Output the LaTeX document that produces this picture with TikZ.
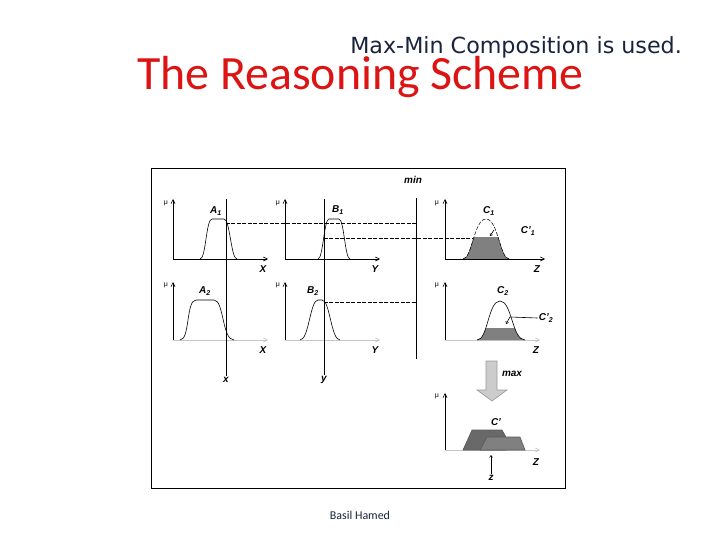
\documentclass[tikz,border=0pt]{standalone}
\usepackage{fontspec}
\setsansfont{Liberation Sans}
\newfontfamily\titlefont{Carlito}
\newfontfamily\notefont{DejaVu Sans}
\usetikzlibrary{arrows.meta}
\definecolor{titlered}{RGB}{220,20,20}
\definecolor{notenavy}{RGB}{25,35,60}
\definecolor{fillgray}{RGB}{128,128,128}
\definecolor{fillgraydark}{RGB}{105,105,105}

\begin{document}
\begin{tikzpicture}[x=1bp,y=-1bp,line width=0.6pt,
    axis/.style={-{Straight Barb[length=4pt,width=4pt]}},
    lbl/.style={font=\sffamily\bfseries\itshape\fontsize{10}{12}\selectfont,inner sep=1pt},
    mulbl/.style={font=\sffamily\fontsize{7}{8}\selectfont,inner sep=0pt},
    cut/.style={dash pattern=on 4pt off 1.5pt}]
      \useasboundingbox (0,0) rectangle (720,540);
      % headings
      \node[anchor=base west,inner sep=0pt,text=notenavy,font=\notefont\fontsize{22.3}{24}\selectfont] at (350,54) (note) {Max-Min Composition is used.};
      \node[anchor=base west,inner sep=0pt,text=titlered,font=\titlefont\fontsize{48}{52}\selectfont] at (137,90) (title) {The Reasoning Scheme};
      \node[anchor=base,inner sep=0pt,text=notenavy,font=\titlefont\fontsize{12}{14}\selectfont] at (360,519) (author) {Basil Hamed};
      \draw[line width=0.8pt] (151,168) rectangle (565,488);
      % row 1
      \draw[axis] (173,259) -- (173,199);
      \draw[axis] (173,259) -- (268,259);
      \draw[axis] (285,259) -- (285,199);
      \draw[axis] (285,259) -- (380,259);
      \draw (200,259) .. controls (206,259) and (206,219) .. (212,219) -- (224,219) .. controls (230,219) and (231,259) .. (237,259);
      \draw (318,259) .. controls (323,259) and (324,219) .. (329,219) -- (339,219) .. controls (344,219) and (345,259) .. (350,259);
      % row 2
      \draw[axis] (173,340) -- (173,282);
      \draw[axis,gray!45] (173,340) -- (268,340);
      \draw[axis] (285,340) -- (285,282);
      \draw[axis,gray!45] (285,340) -- (380,340);
      \draw (180,340) .. controls (190,340) and (186,300) .. (196,300) -- (214,300) .. controls (224,300) and (222,340) .. (234,340);
      \draw (300,340) .. controls (309,340) and (310,300) .. (318,300) -- (322,300) .. controls (330,300) and (331,340) .. (340,340);
      % output side
      \draw[axis] (445,259) -- (445,199);
      \draw[axis] (445,259) -- (545,259);
      \begin{scope}
        \clip (440,238) rectangle (560,259);
        \fill[fillgray,draw=fillgraydark] (463,259) .. controls (472,259) and (474,219) .. (486,219) .. controls (498,219) and (500,259) .. (509,259);
      \end{scope}
      \draw[cut,line width=0.5pt] (463,259) .. controls (472,259) and (474,219) .. (486,219) .. controls (498,219) and (500,259) .. (509,259);
      \draw[axis] (445,340) -- (445,282);
      \draw[axis,gray!45] (445,340) -- (540,340);
      \begin{scope}
        \clip (440,328) rectangle (560,340);
        \fill[fillgray] (477,340) .. controls (488,340) and (488,301) .. (500,301) .. controls (512,301) and (512,340) .. (525,340);
      \end{scope}
      \draw (477,340) .. controls (488,340) and (488,301) .. (500,301) .. controls (512,301) and (512,340) .. (525,340);
      \draw[axis] (445,450) -- (445,393);
      \draw[axis,gray!45] (445,450) -- (540,450);
      \fill[fillgraydark,draw=gray!70!black] (463,450) -- (472,430) -- (502,430) -- (506,437) -- (506,450) -- cycle;
      \fill[fillgray,draw=gray!70!black] (480,450) -- (487,437) -- (520,437) -- (525,450) -- cycle;
      \draw[fill=gray!40,draw=gray!80] (486,361) -- (497,361) -- (497,390) -- (507,390) -- (492,401) -- (477,390) -- (486,390) -- cycle;
      % labels
      \node[lbl] at (413,180) (minlbl) {min};
      \node[lbl] at (512,374) (maxlbl) {max};
      \node[lbl] at (216,211) (a1) {A\textsubscript{1}};
      \node[lbl] at (338,210) (b1) {B\textsubscript{1}};
      \node[lbl] at (205,291) (a2) {A\textsubscript{2}};
      \node[lbl] at (313,291) (b2) {B\textsubscript{2}};
      \node[lbl] at (489,211) (c1) {C\textsubscript{1}};
      \node[lbl] at (528,231) (cp1) {C'\textsubscript{1}};
      \node[lbl] at (503,291) (c2) {C\textsubscript{2}};
      \node[lbl] at (546,318) (cp2) {C'\textsubscript{2}};
      \node[lbl] at (496,422) (cp) {C'};
      \node[lbl] at (263,269) (xa1) {X};
      \node[lbl] at (375,269) (ya1) {Y};
      \node[lbl] at (537,269) (za1) {Z};
      \node[lbl] at (263,350) (xa2) {X};
      \node[lbl] at (375,350) (ya2) {Y};
      \node[lbl] at (536,350) (za2) {Z};
      \node[lbl] at (536,462) (za3) {Z};
      \node[mulbl] at (166,203) (mu1) {μ};
      \node[mulbl] at (278,203) (mu2) {μ};
      \node[mulbl] at (437,203) (mu3) {μ};
      \node[mulbl] at (166,285) (mu4) {μ};
      \node[mulbl] at (278,285) (mu5) {μ};
      \node[mulbl] at (437,285) (mu6) {μ};
      \node[mulbl] at (437,396) (mu7) {μ};
      \node[lbl] at (226,380) (xin) {x};
      \node[lbl] at (324,380) (yin) {y};
      \node[lbl] at (491,478) (zout) {z};
      % input cuts and min line
      \coordinate (xtop) at (226,199);
      \coordinate (ytop) at (324,199);
      \coordinate (mintop) at (416,198);
      \coordinate (minbot) at (416,359);
      \path[draw] (xtop) -- (xin.north);
      \path[draw] (ytop) -- (yin.north);
      \path[draw] (mintop) -- (minbot);
      \coordinate (a1cut) at (226,223);
      \coordinate (a1min) at (416,223);
      \coordinate (b1cut) at (324,238);
      \coordinate (c1cut) at (472,238);
      \coordinate (b2cut) at (324,302);
      \coordinate (b2min) at (416,302);
      \path[draw,cut] (a1cut) -- (a1min);
      \path[draw,cut] (b1cut) -- (c1cut);
      \path[draw,cut] (b2cut) -- (b2min);
      % pointers
      \coordinate (cp1tip) at (490,236);
      \coordinate (cp1tail) at (494,230);
      \coordinate (cp2bend) at (510,317);
      \coordinate (cp2tip) at (506,324);
      \coordinate (ztip) at (491,455);
      \path[draw,-{Straight Barb[length=2pt,width=3pt]}] (cp1tail) -- (cp1tip);
      \path[draw,-{Straight Barb[length=2pt,width=3pt]}] (cp2.west) -- (cp2bend) -- (cp2tip);
      \path[draw,-{Straight Barb[length=2pt,width=3pt]}] (zout.north) -- (ztip);
\end{tikzpicture}
\end{document}
